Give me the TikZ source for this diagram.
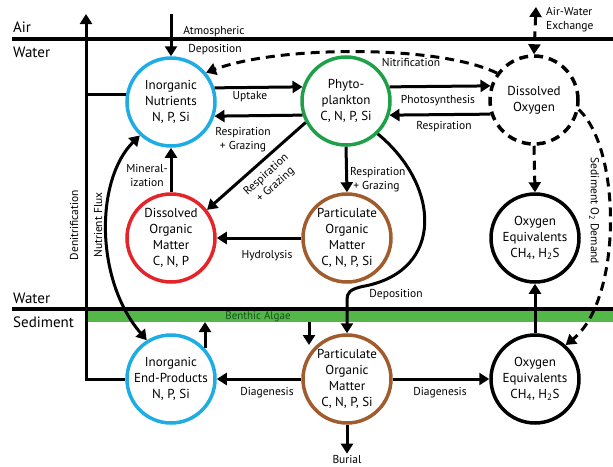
\documentclass[tikz,border=0pt]{standalone}
\usepackage{fontspec}
\setmainfont{PT Sans}
\usetikzlibrary{arrows.meta}
\definecolor{nutblue}{RGB}{30,172,228}
\definecolor{phygreen}{RGB}{30,160,72}
\definecolor{domred}{RGB}{228,36,40}
\definecolor{pombrown}{RGB}{160,92,45}
\definecolor{algae}{RGB}{84,184,72}
\definecolor{algaetext}{RGB}{20,80,25}

\begin{document}
\begin{tikzpicture}[x=1pt,y=-1pt,
        pool/.style={circle,line width=3.5pt,minimum size=88pt,inner sep=0pt,align=center,font=\fontsize{13}{16}\selectfont},
        flow/.style={line width=3pt,-{Triangle[length=10pt,width=12pt]}},
        dflow/.style={flow,dash pattern=on 9pt off 6pt},
        lbl/.style={font=\fontsize{11.5}{14}\selectfont,align=center,inner sep=1pt}]
    \useasboundingbox (0,0) rectangle (613,466);
    % layers
    \fill[algae] (86,311) rectangle (613,322);
    \draw[line width=3.5pt] (12,39)--(613,39);
    \draw[line width=3.5pt] (12,309)--(613,309);
    \foreach \txt/\y in {Air/27,Water/52,Water/298,Sediment/322}{
        \node[anchor=west,inner sep=0pt,font=\fontsize{15}{17}\selectfont] (zone\y) at (13,\y) {\txt};
    }
    \node[font=\fontsize{11}{13}\selectfont,text=algaetext] (algaelbl) at (258,317) {Benthic Algae};
    % pools
    \node[pool,draw=nutblue] (nut) at (171,102) {Inorganic\\Nutrients\\N, P, Si};
    \node[pool,draw=phygreen] (phy) at (346,101) {Phyto-\\plankton\\C, N, P, Si};
    \node[pool,draw,dash pattern=on 9pt off 6pt] (oxy) at (534,100) {Dissolved\\Oxygen};
    \node[pool,draw=domred] (dom) at (171,238) {Dissolved\\Organic\\Matter\\C, N, P};
    \node[pool,draw=pombrown] (pom) at (347,238) {Particulate\\Organic\\Matter\\C, N, P, Si};
    \node[pool,draw] (oeq) at (535,238) {Oxygen\\Equivalents\\CH\textsubscript{4}, H\textsubscript{2}S};
    \node[pool,draw=nutblue] (end) at (171,379) {Inorganic\\End-Products\\N, P, Si};
    \node[pool,draw=pombrown] (sed) at (347,379) {Particulate\\Organic\\Matter\\C, N, P, Si};
    \node[pool,draw] (seq) at (535,379) {Oxygen\\Equivalents\\CH\textsubscript{4}, H\textsubscript{2}S};
    % free ends
    \coordinate (denitop) at (86,14);
    \coordinate (atmtop) at (171,14);
    \coordinate (awtop) at (536,7);
    \coordinate (bandlo) at (0,322);
    \coordinate (algaedrop) at (309,345);
    % water column
    \draw[flow] (end.west) -| (denitop);
    \draw[line width=3pt] (nut.170) -- (nut.170 -| denitop);
    \draw[flow] (atmtop) -- (nut.north);
    \node[lbl,anchor=base] (atmlbl) at (214,34) {Atmospheric};
    \node[lbl,anchor=base] (deplbl) at (215,52) {Deposition};
    \draw[flow] (nut.18) -- (phy.162);
    \node[lbl] (uptake) at (250,97) {Uptake};
    \draw[flow] (phy.-162) -- (nut.-18);
    \node[lbl] (respnut) at (243,140) {Respiration\\+ Grazing};
    \draw[flow] (phy.208) -- (dom.38);
    \node[lbl,rotate=42] (respdom) at (271,180) {Respiration\\+ Grazing};
    \draw[flow] (dom.north) -- (nut.south);
    \node[lbl] (mineral) at (147,175) {Mineral-\\ization};
    \draw[flow] (pom.west) -- (dom.east);
    \node[lbl] (hydro) at (267,256) {Hydrolysis};
    \draw[flow] (phy.south) -- (pom.north);
    \node[lbl,anchor=west,align=left] (resppom) at (349,180) {Respiration\\\ + Grazing};
    \draw[flow] (phy.-46) .. controls (440,185) and (445,270) .. (365,286) .. controls (349,289) and (347,293) .. (347,300) -- (sed.north);
    \node[lbl] (depo) at (396,295) {Deposition};
    \draw[flow] (phy.18) -- (oxy.162);
    \node[lbl] (photo) at (438,101) {Photosynthesis};
    \draw[flow] (oxy.-162) -- (phy.-18);
    \node[lbl] (respoxy) at (444,127) {Respiration};
    \draw[dflow] (oxy.144) .. controls (440,45) and (280,45) .. (nut.40);
    \node[lbl] (nitri) at (411,62) {Nitrification};
    \draw[dflow,{Triangle[length=10pt,width=12pt]}-{Triangle[length=10pt,width=12pt]}] (awtop) -- (oxy.north);
    \node[lbl,anchor=west,align=left] (awlbl) at (545,20) {Air-Water\\Exchange};
    \draw[dflow] (oxy.south) -- (oeq.north);
    \draw[dflow] (oxy.-12) .. controls (622,150) and (622,300) .. (seq.48);
    \node[lbl,rotate=-90] (sodlbl) at (594,211) {Sediment O\textsubscript{2} Demand};
    \draw[{Triangle[length=10pt,width=12pt]}-{Triangle[length=10pt,width=12pt]},line width=3pt] (nut.227) .. controls (95,180) and (95,280) .. (end.122);
    \node[lbl,rotate=90] (denilbl) at (74,225) {Denitrification};
    \node[lbl,rotate=90] (fluxlbl) at (98,225) {Nutrient Flux};
    % sediment
    \draw[flow] (end.42) -- (end.42 |- bandlo);
    \draw[flow] (algaedrop |- bandlo) -- (algaedrop);
    \draw[flow] (sed.west) -- (end.east);
    \node[lbl] (diaend) at (267,393) {Diagenesis};
    \draw[flow] (sed.east) -- (seq.west);
    \node[lbl] (diaseq) at (440,393) {Diagenesis};
    \node[lbl] (burial) at (347,459) {Burial};
    \draw[flow] (sed.south) -- (burial.north);
    \draw[flow] (seq.north) -- (oeq.south);
\end{tikzpicture}
\end{document}
